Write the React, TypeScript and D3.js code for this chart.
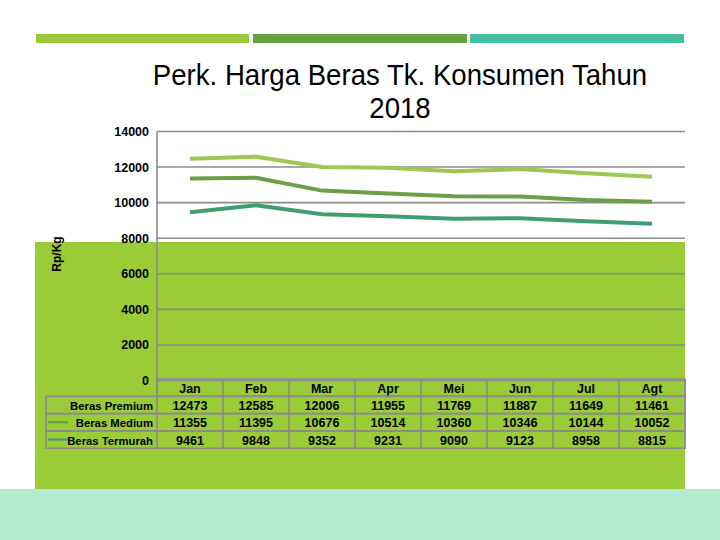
import React from "react";
import * as d3 from "d3";

const months = ["Jan", "Feb", "Mar", "Apr", "Mei", "Jun", "Jul", "Agt"];
const seriesNames = ["Beras Premium", "Beras Medium", "Beras Termurah"];
const premium = [12473, 12585, 12006, 11955, 11769, 11887, 11649, 11461];
const medium = [11355, 11395, 10676, 10514, 10360, 10346, 10144, 10052];
const termurah = [9461, 9848, 9352, 9231, 9090, 9123, 8958, 8815];
const yTicks = [0, 2000, 4000, 6000, 8000, 10000, 12000, 14000];
const seriesColors = ["#9dc852", "#6a9e47", "#3f9e70"];

const W = 720;
const H = 540;
const plotL = 157;
const plotR = 685;
const plotT = 131.5;
const plotB = 380.5;

export default function App() {
  const series = [premium, medium, termurah];
  const x = d3.scaleBand<string>().domain(months).range([plotL, plotR]).paddingInner(0).paddingOuter(0);
  const y = d3.scaleLinear().domain([0, 14000]).range([plotB, plotT]);
  const line = d3
    .line<number>()
    .x((_, i) => (x(months[i]) as number) + x.bandwidth() / 2)
    .y((d) => y(d));

  const tableTop = 379;
  const rowH = 17.3;
  const tableLeft = 46;
  const font = "'Liberation Sans', Arial, sans-serif";
  const grid = "#8c8c8c";
  const fs = 12.5;

  return (
    <svg
      width={W}
      height={H}
      style={{ position: "absolute", left: 0, top: 0, background: "#ffffff" }}
      fontFamily={font}
    >
      {/* top decorative bars */}
      <rect x={36} y={34} width={213} height={9} fill="#9acb3c" />
      <rect x={253} y={34} width={214} height={9} fill="#65a23d" />
      <rect x={470} y={34} width={214} height={9} fill="#45bfa0" />

      {/* title */}
      <g transform="translate(400,0) scale(0.92,1)">
        <text x={0} y={85} textAnchor="middle" fontSize={30} fill="#000">
          Perk. Harga Beras Tk. Konsumen Tahun
        </text>
        <text x={0} y={118} textAnchor="middle" fontSize={30} fill="#000">
          2018
        </text>
      </g>

      {/* green background */}
      <rect x={35} y={242} width={650} height={247} fill="#9bcb37" />
      {/* mint band */}
      <rect x={0} y={489} width={720} height={51} fill="#b3ecd0" />

      {/* grid lines */}
      {yTicks.map((t) => (
        <line key={t} x1={plotL} x2={plotR} y1={y(t)} y2={y(t)} stroke={grid} strokeWidth={1.6} />
      ))}
      <line x1={plotL} x2={plotL} y1={plotT} y2={plotB} stroke={grid} strokeWidth={1.6} />

      {/* y tick labels */}
      {yTicks.map((t) => (
        <text key={"l" + t} x={149} y={y(t) + 4.5} textAnchor="end" fontSize={fs} fontWeight="bold" fill="#000">
          {t}
        </text>
      ))}

      {/* y-axis title */}
      <text
        transform={`translate(61,254) rotate(-90)`}
        textAnchor="middle"
        fontSize={12}
        fontWeight="bold"
        fill="#000"
      >
        Rp/Kg
      </text>

      {/* series lines */}
      {series.map((s, i) => (
        <path key={i} d={line(s) as string} fill="none" stroke={seriesColors[i]} strokeWidth={4} />
      ))}

      {/* data table */}
      <g>
        <rect x={plotL} y={tableTop} width={plotR - plotL} height={rowH} fill="none" stroke={grid} strokeWidth={1.6} />
        {months.map((m) => (
          <g key={m}>
            <line
              x1={x(m) as number}
              x2={x(m) as number}
              y1={tableTop}
              y2={tableTop + rowH * 4}
              stroke={grid}
              strokeWidth={1.6}
            />
            <text
              x={(x(m) as number) + x.bandwidth() / 2}
              y={tableTop + rowH - 3.5}
              textAnchor="middle"
              fontSize={fs}
              fontWeight="bold"
              fill="#000"
            >
              {m}
            </text>
          </g>
        ))}
        {seriesNames.map((name, r) => {
          const ry = tableTop + rowH * (r + 1);
          return (
            <g key={name}>
              <rect
                x={tableLeft}
                y={ry}
                width={plotR - tableLeft}
                height={rowH}
                fill="none"
                stroke={grid}
                strokeWidth={1.6}
              />
              <line x1={48} x2={68} y1={ry + rowH / 2} y2={ry + rowH / 2} stroke={seriesColors[r]} strokeWidth={2} />
              <text x={153} y={ry + rowH - 3.5} textAnchor="end" fontSize={11.3} fontWeight="bold" fill="#000">
                {name}
              </text>
              {series[r].map((v, c) => (
                <text
                  key={c}
                  x={(x(months[c]) as number) + x.bandwidth() / 2}
                  y={ry + rowH - 3.5}
                  textAnchor="middle"
                  fontSize={fs}
                  fontWeight="bold"
                  fill="#000"
                >
                  {v}
                </text>
              ))}
            </g>
          );
        })}
        <line x1={plotR} x2={plotR} y1={tableTop} y2={tableTop + rowH * 4} stroke={grid} strokeWidth={1.6} />
      </g>
    </svg>
  );
}
